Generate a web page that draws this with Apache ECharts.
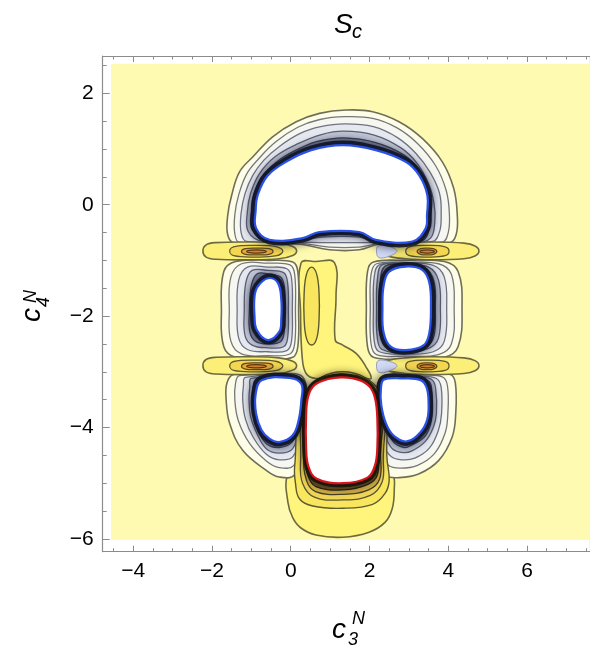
<!DOCTYPE html>
<html><head><meta charset="utf-8">
<script src="https://cdn.jsdelivr.net/npm/echarts@6/dist/echarts.min.js"></script>
<style>html,body{margin:0;padding:0;background:#fff}#c{width:590px;height:648px}</style>
</head><body><div id="c"></div>
<script>
// ---- tick labels ----
const xTickLabels = [-4, -2, 0, 2, 4, 6];
const yTickLabels = [-6, -4, -2, 0, 2];
const xMinorTicks = [-4.5, -3.5, -3, -2.5, -1.5, -1, -0.5, 0.5, 1, 1.5, 2.5, 3, 3.5, 4.5, 5, 5.5, 6.5, 7, 7.5];
const yMinorTicks = [-5.5, -5, -4.5, -3.5, -3, -2.5, -1.5, -1, -0.5, 0.5, 1, 1.5, 2.5];

// ---- contour regions (data coordinates c3, c4) ----
const plotRegion = [[-4.565, -6.02], [7.6, -6.02], [7.6, 2.53], [-4.565, 2.53]];

const topRing1 = [[1.40,1.70],[2.08,1.67],[2.75,1.49],[3.34,1.19],[3.85,0.77],[4.14,0.29],[4.23,-0.19],[4.20,-0.54],[4.02,-0.69],[2.25,-0.71],[1.74,-0.81],[0.98,-0.81],[0.22,-0.71],[-1.43,-0.69],[-1.60,-0.54],[-1.60,-0.19],[-1.50,0.17],[-1.30,0.59],[-0.96,0.86],[-0.46,1.22],[0.14,1.49],[0.73,1.64]];
const topRing2 = [[1.38,1.58],[2.08,1.55],[2.70,1.38],[3.22,1.10],[3.68,0.70],[3.95,0.25],[4.03,-0.18],[4.00,-0.50],[3.85,-0.67],[2.25,-0.70],[1.74,-0.76],[0.98,-0.76],[0.22,-0.69],[-1.30,-0.68],[-1.42,-0.52],[-1.42,-0.18],[-1.32,0.18],[-1.12,0.55],[-0.82,0.82],[-0.38,1.13],[0.18,1.39],[0.74,1.53]];
const topRing3 = [[1.36,1.45],[2.10,1.40],[2.72,1.20],[3.18,0.92],[3.54,0.58],[3.78,0.20],[3.82,-0.18],[3.78,-0.48],[3.60,-0.66],[2.20,-0.68],[1.74,-0.68],[0.90,-0.68],[0.22,-0.67],[-1.12,-0.66],[-1.26,-0.50],[-1.26,-0.15],[-1.16,0.20],[-0.96,0.53],[-0.68,0.80],[-0.28,1.05],[0.24,1.28],[0.76,1.40]];
const topRing4 = [[1.34,1.32],[2.12,1.25],[2.80,1.02],[3.20,0.75],[3.50,0.38],[3.64,0.02],[3.66,-0.30],[3.55,-0.60],[3.15,-0.68],[2.16,-0.66],[1.74,-0.58],[0.80,-0.58],[0.28,-0.64],[-0.70,-0.66],[-1.08,-0.48],[-1.10,-0.12],[-1.02,0.20],[-0.80,0.55],[-0.40,0.86],[0.20,1.10],[0.78,1.26]];
const topRing5 = [[1.33,1.20],[2.14,1.12],[2.86,0.90],[3.24,0.64],[3.48,0.30],[3.56,-0.05],[3.54,-0.36],[3.40,-0.62],[3.10,-0.67],[2.16,-0.64],[1.74,-0.53],[0.76,-0.53],[0.29,-0.62],[-0.58,-0.65],[-0.98,-0.45],[-1.00,-0.11],[-0.94,0.19],[-0.70,0.53],[-0.26,0.82],[0.34,1.05],[0.70,1.14]];
const topCore = [[1.32,1.07],[2.16,0.98],[2.92,0.77],[3.26,0.53],[3.47,0.17],[3.46,-0.19],[3.43,-0.42],[3.09,-0.66],[2.16,-0.63],[1.74,-0.49],[0.73,-0.49],[0.30,-0.60],[-0.54,-0.63],[-0.88,-0.42],[-0.89,-0.10],[-0.84,0.17],[-0.59,0.52],[-0.12,0.77],[0.52,0.98]];

const leftOvalRing1 = [[-1.40,-1.02],[-0.58,-1.00],[0.05,-1.03],[0.18,-1.20],[0.20,-1.90],[0.18,-2.55],[0.05,-2.74],[-0.58,-2.77],[-1.40,-2.74],[-1.70,-2.55],[-1.76,-1.90],[-1.70,-1.20]];
const leftOvalRing2 = [[-1.25,-1.06],[-0.58,-1.05],[-0.02,-1.08],[0.10,-1.25],[0.12,-1.90],[0.10,-2.50],[-0.02,-2.68],[-0.58,-2.71],[-1.25,-2.68],[-1.52,-2.45],[-1.56,-1.90],[-1.52,-1.30]];
const leftOvalRing3 = [[-1.10,-1.12],[-0.58,-1.12],[-0.10,-1.15],[0.02,-1.32],[0.04,-1.90],[0.02,-2.45],[-0.10,-2.62],[-0.58,-2.64],[-1.10,-2.60],[-1.32,-2.40],[-1.36,-1.90],[-1.32,-1.35]];
const leftOvalRing4 = [[-0.98,-1.18],[-0.58,-1.18],[-0.18,-1.22],[-0.08,-1.40],[-0.06,-1.90],[-0.08,-2.40],[-0.18,-2.55],[-0.58,-2.57],[-0.98,-2.52],[-1.16,-2.35],[-1.18,-1.90],[-1.14,-1.40]];
const leftOvalRing5 = [[-0.85,-1.24],[-0.58,-1.24],[-0.26,-1.30],[-0.16,-1.48],[-0.15,-1.90],[-0.17,-2.30],[-0.26,-2.46],[-0.58,-2.50],[-0.90,-2.45],[-1.04,-2.28],[-1.05,-1.90],[-1.00,-1.45]];
const leftOvalCore = [[-0.58,-1.32],[-0.33,-1.40],[-0.24,-1.70],[-0.24,-2.05],[-0.29,-2.28],[-0.58,-2.43],[-0.86,-2.25],[-0.92,-2.00],[-0.92,-1.65],[-0.84,-1.47]];

const rightOvalRing1 = [[2.10,-1.03],[2.92,-1.00],[3.90,-1.02],[4.25,-1.20],[4.35,-1.85],[4.25,-2.55],[3.90,-2.74],[2.92,-2.77],[2.10,-2.74],[1.95,-2.55],[1.92,-1.85],[1.95,-1.20]];
const rightOvalRing2 = [[2.18,-1.06],[2.92,-1.04],[3.75,-1.06],[4.08,-1.25],[4.15,-1.85],[4.08,-2.50],[3.75,-2.69],[2.92,-2.72],[2.18,-2.69],[2.04,-2.50],[2.02,-1.85],[2.04,-1.25]];
const rightOvalRing3 = [[2.25,-1.08],[2.92,-1.05],[3.62,-1.09],[3.90,-1.30],[3.96,-1.85],[3.90,-2.45],[3.62,-2.64],[2.92,-2.68],[2.25,-2.64],[2.12,-2.45],[2.10,-1.85],[2.12,-1.30]];
const rightOvalRing4 = [[2.32,-1.08],[2.92,-1.07],[3.50,-1.12],[3.75,-1.35],[3.80,-1.85],[3.75,-2.40],[3.50,-2.58],[2.92,-2.65],[2.32,-2.60],[2.20,-2.40],[2.18,-1.85],[2.20,-1.35]];
const rightOvalRing5 = [[2.40,-1.10],[2.92,-1.09],[3.42,-1.14],[3.64,-1.38],[3.67,-1.85],[3.64,-2.35],[3.45,-2.55],[2.92,-2.63],[2.45,-2.58],[2.27,-2.35],[2.25,-1.85],[2.27,-1.40]];
const rightOvalCore = [[2.92,-1.11],[3.34,-1.17],[3.52,-1.40],[3.56,-1.85],[3.52,-2.30],[3.38,-2.52],[2.92,-2.61],[2.54,-2.55],[2.36,-2.30],[2.33,-1.85],[2.36,-1.45],[2.50,-1.20]];

const bottomLeftRing1 = [[-1.45,-3.05],[-0.6,-3.03],[0.2,-3.05],[0.38,-3.2],[0.42,-3.6],[0.35,-4.3],[0.1,-4.85],[-0.29,-4.89],[-0.62,-4.77],[-1.22,-4.41],[-1.55,-3.93],[-1.64,-3.5],[-1.62,-3.2]];
const bottomLeftRing2 = [[-1.3,-3.07],[0.15,-3.07],[0.34,-3.25],[0.37,-3.6],[0.30,-4.2],[0.08,-4.68],[-0.29,-4.72],[-0.62,-4.60],[-1.05,-4.28],[-1.33,-3.88],[-1.42,-3.5],[-1.40,-3.2]];
const bottomLeftRing3 = [[-1.15,-3.1],[0.1,-3.09],[0.31,-3.25],[0.33,-3.55],[0.26,-4.05],[0.06,-4.52],[-0.29,-4.58],[-0.62,-4.48],[-0.95,-4.18],[-1.15,-3.85],[-1.22,-3.5],[-1.2,-3.25]];
const bottomLeftRing4 = [[-1.0,-3.12],[0.05,-3.10],[0.29,-3.24],[0.30,-3.53],[0.23,-3.95],[0.05,-4.38],[-0.29,-4.46],[-0.62,-4.38],[-0.85,-4.12],[-1.02,-3.80],[-1.06,-3.48],[-1.04,-3.28]];
const bottomLeftRing5 = [[-0.87,-3.13],[0.0,-3.10],[0.28,-3.23],[0.28,-3.52],[0.21,-3.9],[0.05,-4.25],[-0.29,-4.36],[-0.60,-4.30],[-0.80,-4.10],[-0.95,-3.78],[-0.97,-3.45],[-0.95,-3.25]];
const bottomLeftCore = [[-0.74,-3.15],[-0.03,-3.11],[0.27,-3.22],[0.27,-3.51],[0.20,-3.87],[0.05,-4.14],[-0.29,-4.26],[-0.54,-4.20],[-0.74,-4.05],[-0.88,-3.75],[-0.89,-3.40]];

const bottomRightRing1 = [[2.45,-3.05],[3.3,-3.03],[4.05,-3.05],[4.18,-3.2],[4.19,-3.75],[4.10,-4.17],[3.76,-4.59],[3.26,-4.83],[2.75,-4.90],[2.42,-4.86],[2.22,-4.6],[2.15,-4.0],[2.17,-3.4],[2.25,-3.15]];
const bottomRightRing2 = [[2.45,-3.07],[3.3,-3.06],[3.85,-3.09],[3.98,-3.25],[3.99,-3.75],[3.92,-4.10],[3.65,-4.47],[3.22,-4.68],[2.78,-4.73],[2.48,-4.68],[2.30,-4.45],[2.22,-4.0],[2.23,-3.45],[2.28,-3.18]];
const bottomRightRing3 = [[2.42,-3.10],[3.3,-3.08],[3.70,-3.12],[3.82,-3.28],[3.83,-3.75],[3.75,-4.05],[3.52,-4.37],[3.15,-4.55],[2.82,-4.58],[2.55,-4.52],[2.35,-4.30],[2.26,-3.95],[2.25,-3.45],[2.30,-3.2]];
const bottomRightRing4 = [[2.40,-3.12],[3.3,-3.10],[3.58,-3.14],[3.68,-3.30],[3.70,-3.75],[3.62,-4.00],[3.42,-4.25],[3.08,-4.42],[2.85,-4.45],[2.58,-4.38],[2.40,-4.15],[2.29,-3.9],[2.27,-3.45],[2.32,-3.2]];
const bottomRightRing5 = [[2.39,-3.13],[3.3,-3.12],[3.52,-3.18],[3.58,-3.32],[3.59,-3.7],[3.55,-3.95],[3.38,-4.18],[3.0,-4.34],[2.88,-4.36],[2.62,-4.27],[2.44,-4.05],[2.31,-3.8],[2.29,-3.45],[2.33,-3.2]];
const bottomRightCore = [[2.37,-3.14],[2.84,-3.12],[3.30,-3.15],[3.45,-3.28],[3.50,-3.55],[3.47,-3.85],[3.30,-4.08],[2.95,-4.25],[2.62,-4.15],[2.42,-3.93],[2.30,-3.6],[2.29,-3.3]];

const tailRing1 = [[-0.08,-4.85],[-0.07,-5.35],[0.05,-5.62],[0.25,-5.80],[0.64,-5.93],[1.32,-5.97],[1.99,-5.88],[2.40,-5.70],[2.58,-5.45],[2.63,-5.10],[2.60,-4.85],[2.3,-4.6],[1.32,-4.6],[0.3,-4.6]];
const tailRing2 = [[0.10,-4.7],[0.12,-5.0],[0.22,-5.28],[0.56,-5.41],[1.32,-5.45],[2.08,-5.38],[2.40,-5.18],[2.50,-4.95],[2.45,-4.6],[2.3,-3.4],[1.32,-3.0],[0.35,-3.4]];
const tailRing3 = [[0.25,-4.6],[0.30,-5.0],[0.6,-5.25],[1.32,-5.30],[2.02,-5.22],[2.32,-4.98],[2.35,-4.6],[2.28,-3.5],[1.32,-3.04],[0.40,-3.45]];
const tailRing4 = [[0.33,-4.5],[0.40,-4.95],[0.63,-5.15],[1.32,-5.20],[1.98,-5.12],[2.26,-4.92],[2.28,-4.5],[2.25,-3.5],[1.32,-3.06],[0.43,-3.45]];
const tailRing5 = [[0.37,-4.45],[0.43,-4.85],[0.64,-5.06],[1.32,-5.12],[1.96,-5.02],[2.20,-4.85],[2.23,-4.4],[2.22,-3.55],[1.32,-3.08],[0.42,-3.45]];
const centerCore = [[1.32,-3.10],[1.75,-3.15],[2.02,-3.28],[2.15,-3.5],[2.20,-3.85],[2.20,-4.35],[2.14,-4.68],[1.95,-4.90],[1.32,-5.00],[0.66,-4.92],[0.45,-4.70],[0.39,-4.35],[0.39,-3.80],[0.44,-3.45],[0.60,-3.24],[0.95,-3.13]];

const channelRegion = [[0.26,-1.05],[0.64,-1.02],[1.11,-1.04],[1.15,-1.65],[1.13,-2.43],[1.32,-2.52],[1.66,-2.67],[1.91,-2.91],[2.04,-3.12],[1.74,-3.09],[1.23,-3.09],[0.64,-3.12],[0.39,-3.03],[0.29,-2.73],[0.25,-1.95]];
const channelPeak = [[0.53,-1.12],[0.66,-1.25],[0.72,-1.6],[0.72,-2.05],[0.66,-2.4],[0.53,-2.52],[0.40,-2.4],[0.34,-2.05],[0.34,-1.6],[0.40,-1.25]];

const upperLeftBand1 = [[-2.23,-0.83],[-2.15,-0.72],[-1.9,-0.68],[-1.0,-0.67],[-0.3,-0.69],[0.05,-0.75],[0.15,-0.83],[0.05,-0.91],[-0.3,-0.97],[-1.0,-0.99],[-1.9,-0.98],[-2.15,-0.94]];
const upperLeftBand2 = [[-1.55,-0.835],[-1.45,-0.755],[-0.9,-0.73],[-0.35,-0.755],[-0.2,-0.835],[-0.35,-0.915],[-0.9,-0.94],[-1.45,-0.915]];
const upperLeftBand3 = [[-1.25,-0.84],[-1.15,-0.79],[-0.85,-0.78],[-0.55,-0.79],[-0.45,-0.84],[-0.55,-0.89],[-0.85,-0.90],[-1.15,-0.89]];
const upperLeftBand4 = [[-1.12,-0.84],[-1.0,-0.815],[-0.75,-0.815],[-0.62,-0.84],[-0.75,-0.865],[-1.0,-0.865]];
const upperRightBand1 = [[2.25,-0.83],[2.4,-0.75],[2.9,-0.69],[3.6,-0.67],[4.4,-0.69],[4.68,-0.74],[4.78,-0.83],[4.68,-0.92],[4.4,-0.97],[3.6,-0.99],[2.9,-0.97],[2.4,-0.91]];
const upperRightBand2 = [[2.92,-0.835],[3.02,-0.755],[3.47,-0.73],[3.92,-0.755],[4.02,-0.835],[3.92,-0.915],[3.47,-0.94],[3.02,-0.915]];
const upperRightBand3 = [[3.21,-0.84],[3.3,-0.79],[3.46,-0.78],[3.62,-0.79],[3.71,-0.84],[3.62,-0.89],[3.46,-0.90],[3.3,-0.89]];
const upperRightBand4 = [[3.28,-0.84],[3.38,-0.815],[3.55,-0.815],[3.65,-0.84],[3.55,-0.865],[3.38,-0.865]];
const lowerLeftBand1 = [[-2.23,-2.89],[-2.15,-2.78],[-1.9,-2.74],[-1.0,-2.73],[-0.3,-2.75],[0.05,-2.81],[0.15,-2.89],[0.05,-2.97],[-0.3,-3.03],[-1.0,-3.05],[-1.9,-3.04],[-2.15,-3.00]];
const lowerLeftBand2 = [[-1.55,-2.895],[-1.45,-2.815],[-0.9,-2.79],[-0.35,-2.815],[-0.2,-2.895],[-0.35,-2.975],[-0.9,-3.0],[-1.45,-2.975]];
const lowerLeftBand3 = [[-1.25,-2.9],[-1.15,-2.85],[-0.85,-2.84],[-0.55,-2.85],[-0.45,-2.9],[-0.55,-2.95],[-0.85,-2.96],[-1.15,-2.95]];
const lowerLeftBand4 = [[-1.12,-2.9],[-1.0,-2.875],[-0.75,-2.875],[-0.62,-2.9],[-0.75,-2.925],[-1.0,-2.925]];
const lowerRightBand1 = [[2.25,-2.89],[2.4,-2.81],[2.9,-2.75],[3.6,-2.73],[4.4,-2.75],[4.68,-2.80],[4.78,-2.89],[4.68,-2.98],[4.4,-3.03],[3.6,-3.05],[2.9,-3.03],[2.4,-2.97]];
const lowerRightBand2 = [[2.92,-2.895],[3.02,-2.815],[3.47,-2.79],[3.92,-2.815],[4.02,-2.895],[3.92,-2.975],[3.47,-3.0],[3.02,-2.975]];
const lowerRightBand3 = [[3.21,-2.9],[3.3,-2.85],[3.46,-2.84],[3.62,-2.85],[3.71,-2.9],[3.62,-2.95],[3.46,-2.96],[3.3,-2.95]];
const lowerRightBand4 = [[3.28,-2.9],[3.38,-2.875],[3.55,-2.875],[3.65,-2.9],[3.55,-2.925],[3.38,-2.925]];

const upperSaddle = [[2.22,-0.74],[2.48,-0.75],[2.70,-0.83],[2.48,-0.93],[2.24,-0.95],[2.18,-0.85]];
const lowerSaddle = [[2.22,-2.80],[2.48,-2.81],[2.70,-2.89],[2.48,-2.99],[2.24,-3.01],[2.18,-2.91]];

// ---- styles (kept apart from data) ----
const styles = {
  bg:   { fill: '#FFFAB2', stroke: null, lineWidth: 0, smooth: 0 },
  lo1:  { fill: '#FEFDE8', stroke: '#6F6F58', lineWidth: 1.6 },
  lo2:  { fill: '#F7F7F2', stroke: '#777777', lineWidth: 1.3 },
  lo3:  { fill: '#E6E8F0', stroke: '#6E7380', lineWidth: 1.3 },
  lo4:  { fill: '#C3C8D8', stroke: '#5C6274', lineWidth: 1.3 },
  lo5:  { fill: '#858CA6', stroke: '#3E4456', lineWidth: 1.3 },
  hi1:  { fill: '#FFF47C', stroke: '#6E6A40', lineWidth: 1.6 },
  hi2:  { fill: '#F8E65E', stroke: '#5E5A30', lineWidth: 1.4 },
  hi3:  { fill: '#EED558', stroke: '#5A5430', lineWidth: 1.3 },
  hi4:  { fill: '#CFAE48', stroke: '#4A4020', lineWidth: 1.3 },
  hi5:  { fill: '#6A5628', stroke: '#2A2010', lineWidth: 1.3 },
  band1:{ fill: '#FCEF78', stroke: '#6E6A40', lineWidth: 1.6 },
  band2:{ fill: '#F5D650', stroke: '#5E5A30', lineWidth: 1.3 },
  band3:{ fill: '#E9A83C', stroke: '#5A4A20', lineWidth: 1.3 },
  band4:{ fill: '#D4822A', stroke: '#5A3A10', lineWidth: 1.2 },
  saddle:{ fill: '#D2D9F4', stroke: '#9AA0B8', lineWidth: 1 },
  haloLow:  { fill: 'none', stroke: 'rgba(16,20,40,0.9)', lineWidth: 9, shadowBlur: 10, shadowColor: 'rgba(16,20,40,0.85)' },
  haloHigh: { fill: 'none', stroke: 'rgba(26,20,8,0.9)', lineWidth: 8, shadowBlur: 8, shadowColor: 'rgba(26,20,8,0.8)' },
  coreLow:  { fill: '#FFFFFF', stroke: '#2B52E6', lineWidth: 2.2 },
  coreHigh: { fill: '#FFFFFF', stroke: '#D8141E', lineWidth: 2.2 }
};

const layers = [
  [plotRegion, 'bg'],
  [tailRing1, 'hi1'], [channelRegion, 'hi1'], [channelPeak, 'hi2'],
  [topRing1, 'lo1'], [topRing2, 'lo2'], [topRing3, 'lo3'], [topRing4, 'lo4'], [topRing5, 'lo5'],
  [leftOvalRing1, 'lo1'], [leftOvalRing2, 'lo2'], [leftOvalRing3, 'lo3'], [leftOvalRing4, 'lo4'], [leftOvalRing5, 'lo5'],
  [rightOvalRing1, 'lo1'], [rightOvalRing2, 'lo2'], [rightOvalRing3, 'lo3'], [rightOvalRing4, 'lo4'], [rightOvalRing5, 'lo5'],
  [bottomLeftRing1, 'lo1'], [bottomLeftRing2, 'lo2'], [bottomLeftRing3, 'lo3'], [bottomLeftRing4, 'lo4'], [bottomLeftRing5, 'lo5'],
  [bottomRightRing1, 'lo1'], [bottomRightRing2, 'lo2'], [bottomRightRing3, 'lo3'], [bottomRightRing4, 'lo4'], [bottomRightRing5, 'lo5'],
  [tailRing2, 'hi2'], [tailRing3, 'hi3'], [tailRing4, 'hi4'], [tailRing5, 'hi5'],
  [upperLeftBand1, 'band1'], [upperLeftBand2, 'band2'], [upperLeftBand3, 'band3'], [upperLeftBand4, 'band4'],
  [upperRightBand1, 'band1'], [upperRightBand2, 'band2'], [upperRightBand3, 'band3'], [upperRightBand4, 'band4'],
  [lowerLeftBand1, 'band1'], [lowerLeftBand2, 'band2'], [lowerLeftBand3, 'band3'], [lowerLeftBand4, 'band4'],
  [lowerRightBand1, 'band1'], [lowerRightBand2, 'band2'], [lowerRightBand3, 'band3'], [lowerRightBand4, 'band4'],
  [upperSaddle, 'saddle'], [lowerSaddle, 'saddle'],
  [topCore, 'haloLow'], [leftOvalCore, 'haloLow'], [rightOvalCore, 'haloLow'],
  [bottomLeftCore, 'haloLow'], [bottomRightCore, 'haloLow'], [centerCore, 'haloHigh'],
  [topCore, 'coreLow'], [leftOvalCore, 'coreLow'], [rightOvalCore, 'coreLow'],
  [bottomLeftCore, 'coreLow'], [bottomRightCore, 'coreLow'], [centerCore, 'coreHigh']
];

function polySeries(points, styleName) {
  const st = styles[styleName];
  return {
    type: 'custom', coordinateSystem: 'cartesian2d', xAxisIndex: 0, yAxisIndex: 0,
    silent: true, animation: false, clip: true,
    data: points, encode: { x: 0, y: 1 },
    renderItem: function (params, api) {
      if (params.dataIndex !== 0) return null;
      const pts = points.map(p => api.coord(p));
      const style = { fill: st.fill, stroke: st.stroke || 'none', lineWidth: st.lineWidth, lineJoin: 'round' };
      if (st.shadowBlur) { style.shadowBlur = st.shadowBlur; style.shadowColor = st.shadowColor; }
      return { type: 'polygon', shape: { points: pts, smooth: st.smooth === 0 ? 0 : 0.4 }, style: style };
    }
  };
}

const X_MIN = -4.775, X_MAX = 7.6, Y_MIN = -6.23, Y_MAX = 2.67;
const frameColor = '#8C8C8C';
const fmt = v => String(v).replace('-', '\u2212');
const labelFont = { fontSize: 21, color: '#000', fontFamily: '"Liberation Sans", Arial, sans-serif' };

function xAx(pos, ticks, len, labels, showLine) {
  return {
    type: 'value', min: X_MIN, max: X_MAX, position: pos,
    axisLine: { show: showLine, onZero: false, lineStyle: { color: frameColor, width: 1.2 } },
    axisTick: { show: true, inside: true, length: len, customValues: ticks, lineStyle: { color: frameColor, width: 1 } },
    axisLabel: labels ? Object.assign({ show: true, customValues: ticks, formatter: fmt, margin: 9 }, labelFont) : { show: false },
    splitLine: { show: false }
  };
}
function yAx(pos, ticks, len, labels, showLine) {
  return {
    type: 'value', min: Y_MIN, max: Y_MAX, position: pos,
    axisLine: { show: showLine, onZero: false, lineStyle: { color: frameColor, width: 1.2 } },
    axisTick: { show: true, inside: true, length: len, customValues: ticks, lineStyle: { color: frameColor, width: 1 } },
    axisLabel: labels ? Object.assign({ show: true, customValues: ticks, formatter: fmt, margin: 9 }, labelFont) : { show: false },
    splitLine: { show: false }
  };
}

const chart = echarts.init(document.getElementById('c'), null, { renderer: 'canvas' });
const italic = 'italic 28px "Liberation Sans", Arial, sans-serif';
const small = 'italic 18px "Liberation Sans", Arial, sans-serif';
chart.setOption({
  backgroundColor: '#ffffff',
  animation: false,
  grid: { left: 102.7, top: 56, right: -1.5, bottom: 96.3, containLabel: false },
  xAxis: [
    xAx('bottom', xTickLabels, 6, true, true),
    xAx('bottom', xMinorTicks, 3.5, false, false),
    xAx('top', xTickLabels, 6, false, true),
    xAx('top', xMinorTicks, 3.5, false, false)
  ],
  yAxis: [
    yAx('left', yTickLabels, 7, true, true),
    yAx('left', yMinorTicks, 4, false, false),
    yAx('right', yTickLabels, 7, false, true),
    yAx('right', yMinorTicks, 4, false, false)
  ],
  series: layers.map(l => polySeries(l[0], l[1])),
  graphic: [
    { type: 'text', x: 334, y: 25, style: { text: 'S', font: italic, fill: '#000', align: 'left', verticalAlign: 'middle' } },
    { type: 'text', x: 352, y: 32, style: { text: 'c', font: 'italic 20px "Liberation Sans", Arial, sans-serif', fill: '#000', align: 'left', verticalAlign: 'middle' } },
    { type: 'text', x: 332, y: 630, style: { text: 'c', font: italic, fill: '#000', align: 'left', verticalAlign: 'middle' } },
    { type: 'text', x: 352, y: 618.5, style: { text: 'N', font: small, fill: '#000', align: 'left', verticalAlign: 'middle' } },
    { type: 'text', x: 348, y: 640, style: { text: '3', font: small, fill: '#000', align: 'left', verticalAlign: 'middle' } },
    { type: 'group', x: 35, y: 322, rotation: Math.PI / 2, children: [
      { type: 'text', x: 0, y: -2.8, style: { text: 'c', font: italic, fill: '#000', align: 'left', verticalAlign: 'middle' } },
      { type: 'text', x: 19, y: -4, style: { text: 'N', font: small, fill: '#000', align: 'left', verticalAlign: 'middle' } },
      { type: 'text', x: 15, y: 9, style: { text: '4', font: small, fill: '#000', align: 'left', verticalAlign: 'middle' } }
    ] }
  ]
});
</script>
</body></html>
